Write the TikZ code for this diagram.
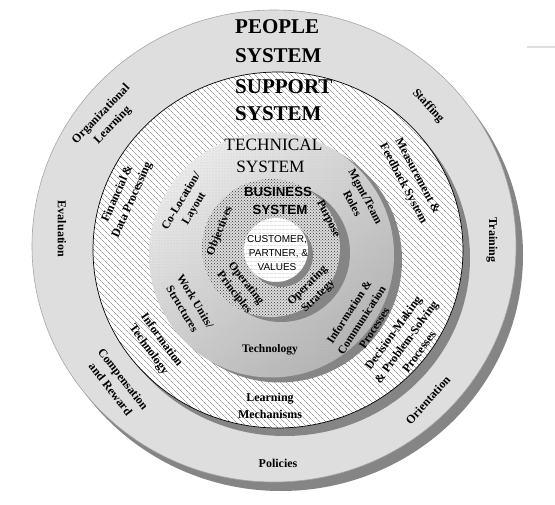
\documentclass[tikz,border=0pt]{standalone}
\usepackage{fontspec}
\setmainfont{Liberation Serif}
\newfontfamily\arialf{Liberation Sans}
\usetikzlibrary{patterns,patterns.meta}
\definecolor{shadowgray}{HTML}{858585}
\definecolor{ringgray}{HTML}{DEDEDE}
\begin{document}
\begin{tikzpicture}[x=1pt,y=-1pt,
  shadowfill/.style={fill=shadowgray},
  lbl/.style={font=\fontsize{12}{16}\selectfont\bfseries, align=center, inner sep=0pt},
  ilbl/.style={font=\fontsize{11.5}{15}\selectfont\bfseries, align=center, inner sep=0pt},
  bigtitle/.style={font=\fontsize{21}{25}\selectfont\bfseries, anchor=west, inner sep=0pt},
  techtitle/.style={font=\fontsize{17.3}{20}\selectfont, inner sep=0pt},
  bustitle/.style={font=\arialf\fontsize{13.3}{16}\selectfont\bfseries, inner sep=0pt},
  custtext/.style={font=\arialf\fontsize{10}{12}\selectfont, inner sep=0pt}
]
\useasboundingbox (0,0) rectangle (555,505);
\fill[white] (0,0) rectangle (555,505);

% outer ring (people system)
\fill[shadowfill] (281,255) ellipse [x radius=242pt, y radius=236pt];
\fill[ringgray] (274,246) ellipse [x radius=242pt, y radius=236pt];
\draw[gray!70, line width=0.6pt] (274,246) ellipse [x radius=242pt, y radius=236pt];

% support ring
\fill[shadowfill] (285,258) ellipse [x radius=185pt, y radius=178pt];
\fill[white] (278,250) ellipse [x radius=185pt, y radius=178pt];
\fill[pattern={Lines[angle=-45, distance=4pt, line width=0.4pt]}, pattern color=black!60] (278,250) ellipse [x radius=185pt, y radius=178pt];
\draw[black, line width=0.7pt] (278,250) ellipse [x radius=185pt, y radius=178pt];

% technical ring
\fill[shadowfill] (279.5,260) circle [radius=122.5pt];
\shade[top color=gray!16, bottom color=gray!60, shading angle=40] (271.5,255) circle [radius=122.5pt];
\fill[pattern=dots, pattern color=gray!45] (271.5,255) circle [radius=122.5pt];

% business ring
\fill[shadowfill] (281,253) circle [radius=69pt];
\fill[gray!28] (271,248) circle [radius=69pt];
\fill[pattern=crosshatch dots, pattern color=black!80] (271,248) circle [radius=69pt];

% customer circle
\fill[shadowfill] (281,255) circle [radius=32pt];
\fill[white] (276,250) circle [radius=32pt];
\fill[pattern={Lines[angle=0, distance=4pt, line width=0.4pt]}, pattern color=gray!35] (276,250) circle [radius=32pt];

% stray line top right
\coordinate (strayA) at (527,47);
\coordinate (strayB) at (555,47);
\draw[gray!25, line width=1.5pt] (strayA) -- (strayB);

% titles
\node[bigtitle] (people) at (235,27) {PEOPLE};
\node[bigtitle] (peoplesys) at (235,56) {SYSTEM};
\node[bigtitle] (support) at (235,87) {SUPPORT};
\node[bigtitle] (supportsys) at (235,114) {SYSTEM};
\node[techtitle] (technical) at (273.5,145) {TECHNICAL};
\node[techtitle] (techsys) at (270.5,167) {SYSTEM};
\node[bustitle] (business) at (278,192) {BUSINESS};
\node[bustitle] (bussys) at (280,210) {SYSTEM};

\begin{scope}
\clip (276,250) circle [radius=32pt];
\node[custtext] (cust1) at (277,240) {CUSTOMER,};
\node[custtext] (cust2) at (278.5,253.3) {PARTNER, \&};
\node[custtext] (cust3) at (277,266.7) {VALUES};
\end{scope}

% people system labels
\node[lbl, rotate=46] (orglearn) at (107,120) {Organizational\\Learning};
\node[lbl, rotate=-90] (evaluation) at (62,229) {Evaluation};
\node[lbl, rotate=-47] (staffing) at (428,106) {Staffing};
\node[lbl, rotate=-90] (training) at (492,240) {Training};
\node[lbl, rotate=-52] (compensation) at (117,384) {Compensation\\and Reward};
\node[lbl] (policies) at (278,463) {Policies};
\node[lbl, rotate=48] (orientation) at (428,400) {Orientation};

% support system labels
\node[lbl, rotate=66] (financial) at (125,197) {Financial \&\\Data Processing};
\node[lbl, rotate=-62] (measurement) at (410,180) {Measurement \&\\Feedback System};
\node[lbl, rotate=-54] (infotech) at (155,345) {Information\\Technology};
\node[lbl, font=\fontsize{12}{16.5}\selectfont\bfseries] (learnmech) at (270,406) {Learning\\Mechanisms};
\node[lbl, rotate=54] (decision) at (406,342) {Decision-Making\\\& Problem-Solving\\Processes};

% technical system labels
\node[ilbl, rotate=59] (colocation) at (188,205) {Co-Location/\\Layout};
\node[ilbl, rotate=-62] (mgmtteam) at (359,200) {Mgmt/Team\\Roles};
\node[ilbl, rotate=-59] (workunits) at (189,305) {Work Units/\\Structures};
\node[ilbl] (technology) at (270,350) {Technology};
\node[ilbl, rotate=57] (infocomm) at (361.5,320) {Information \&\\Communication\\Processes};

% business system labels
\node[ilbl, rotate=68] (objectives) at (220,231) {Objectives};
\node[ilbl, rotate=-64] (purpose) at (328,219) {Purpose};
\node[ilbl, rotate=-52] (opprinc) at (240,288) {Operating\\Principles};
\node[ilbl, rotate=45] (opstrat) at (313,291) {Operating\\Strategy};
\end{tikzpicture}
\end{document}
